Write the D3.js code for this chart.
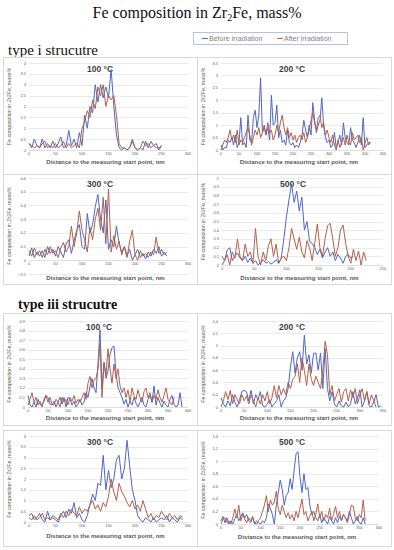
<!DOCTYPE html>
<html>
<head>
<meta charset="utf-8">
<script src="https://cdn.jsdelivr.net/npm/d3@7"></script>
<style>
    body { margin: 0; background: #ffffff; }
    svg { display: block; }
</style>
</head>
<body>
<svg id="vis"></svg>
<script>
/**
 * Data, Fe composition (mass%) along the measuring line
 */
const seriesNames = ["Before irradiation", "After irradiation"];
const structures = ["type i strucutre", "type iii strucutre"];
const temps = ["100 °C", "200 °C", "300 °C", "500 °C"];

// sampling interval along the line, nm
const iStep = [5, 5, 5, 4];
const iiiStep = [5, 5, 5, 5];

// type i, 100 °C
const i100Before = [0.3,0.1,0.5,0.2,0.1,0.5,0.1,0.3,0.1,0.4,0.1,0.3,0.6,0.1,0.2,0.9,0.2,0.5,0.1,0.8,0.2,1.6,1.0,2.0,1.7,3.0,2.2,3.0,2.4,2.9,2.4,3.7,2.0,0.7,0.1,0.0,0.1,0.0,0.1,0.5,0.1,0.0,0.1,0.0,0.4,0.1,0.4,0.2,0.3,0.0,0.2];
const i100After = [0.3,0.2,0.1,0.2,0.1,0.3,0.4,0.1,0.2,0.1,0.3,0.1,0.2,0.4,0.1,0.3,0.1,0.2,0.3,0.1,1.0,1.3,1.8,1.5,2.3,1.9,2.9,2.5,3.0,2.0,2.5,2.3,2.5,1.6,0.3,0.1,0.1,0.0,0.1,0.4,0.1,0.0,0.1,0.4,0.2,0.3,0.1,0.2,0.1,0.1,0.2];

// type i, 200 °C
const i200Before = [0.2,0.0,0.1,0.1,0.4,0.3,0.5,0.2,0.6,0.1,0.3,1.3,0.2,0.3,0.1,1.4,0.4,0.3,1.3,1.6,0.9,1.4,2.9,0.7,1.0,0.6,0.9,0.4,2.2,1.0,1.1,1.8,0.5,0.8,0.3,0.4,0.2,0.8,0.3,0.2,0.3,0.1,0.2,0.1,0.3,0.6,1.2,0.8,0.5,1.0,0.6,1.9,1.2,0.7,1.0,1.2,2.1,1.0,0.5,0.3,0.4,0.1,0.2,0.7,0.1,0.3,0.6,0.2,1.1,0.5,0.3,0.2,0.9,0.4,0.3,0.1,0.3,0.6,0.2,1.3,0.1,0.2,0.3,0.3];
const i200After = [0.0,0.2,0.4,0.3,0.5,0.8,0.4,0.6,0.3,0.8,0.2,0.4,0.3,0.5,0.7,0.9,0.6,0.2,0.5,0.8,0.6,0.9,0.5,0.7,0.9,0.6,1.1,0.7,0.8,0.4,0.6,1.0,0.7,1.1,1.4,0.9,0.6,0.9,0.5,0.7,0.4,0.6,0.3,0.5,0.6,0.4,0.7,0.3,0.5,0.8,1.2,1.5,1.1,0.8,1.3,1.4,0.9,1.1,0.6,0.8,0.5,0.3,0.6,0.2,0.0,0.4,0.1,0.3,0.5,0.2,0.6,0.3,0.2,0.7,0.4,0.5,0.6,0.3,0.5,0.0,0.3,0.5,0.2,0.3];

// type i, 300 °C
const i300Before = [0.03,0.09,0.02,0.06,0.03,0.07,0.02,0.1,0.05,0.08,0.03,0.1,0.06,0.02,0.12,0.15,0.05,0.14,0.22,0.26,0.1,0.08,0.34,0.2,0.26,0.39,0.48,0.3,0.2,0.44,0.08,0.15,0.1,0.25,0.12,0.06,0.1,0.03,0.08,0.0,0.04,0.08,0.02,0.05,0.01,0.06,0.03,0.08,0.05,0.1,0.03,0.06,0.03];
const i300After = [0.07,0.03,0.09,0.04,0.07,0.02,0.08,0.04,0.1,0.05,0.07,0.02,0.09,0.13,0.06,0.1,0.25,0.1,0.2,0.36,0.22,0.15,0.06,0.24,0.15,0.3,0.38,0.22,0.46,0.12,0.52,0.06,0.18,0.08,0.14,0.04,0.1,0.02,0.14,0.22,0.04,0.0,0.07,0.03,0.05,0.02,0.06,0.04,0.17,0.05,0.08,0.04,0.06];

// type i, 500 °C
const i500Before = [0.0,0.05,0.17,0.2,0.05,0.1,0.14,0.08,0.05,0.1,0.03,0.08,0.02,0.05,0.0,0.03,0.06,0.02,0.04,0.01,0.03,0.06,0.02,0.08,0.3,0.55,0.75,0.93,0.72,0.85,0.62,0.78,0.4,0.5,0.27,0.25,0.2,0.12,0.18,0.08,0.15,0.2,0.1,0.15,0.05,0.12,0.08,0.02,0.1,0.12,0.08,0.1];
const i500After = [0.1,0.05,0.12,0.0,0.15,0.08,0.3,0.1,0.05,0.24,0.1,0.15,0.02,0.42,0.1,0.0,0.15,0.05,0.22,0.3,0.1,0.24,0.02,0.08,0.1,0.05,0.2,0.42,0.3,0.18,0.32,0.15,0.08,0.28,0.2,0.05,0.25,0.47,0.2,0.1,0.3,0.45,0.48,0.3,0.1,0.2,0.4,0.46,0.25,0.1,0.02,0.18,0.05,0.16,0.0,0.15,0.05];

// type iii, 100 °C
const iii100Before = [0.12,0.02,0.0,0.05,0.0,0.08,0.03,0.02,0.06,0.12,0.1,0.03,0.02,0.06,0.0,0.05,0.1,0.03,0.1,0.0,0.1,0.08,0.02,0.06,0.0,0.03,0.08,0.02,0.05,0.15,0.1,0.22,0.3,0.2,0.15,0.45,0.81,0.2,0.47,0.3,0.38,0.55,0.62,0.64,0.35,0.2,0.15,0.1,0.03,0.08,0.0,0.06,0.02,0.1,0.04,0.0,0.05,0.1,0.02,0.0,0.08,0.12,0.05,0.22,0.02,0.1,0.04,0.0,0.06,0.02,0.0,0.08,0.12,0.03,0.0,0.02,0.15,0.0];
const iii100After = [0.02,0.08,0.15,0.05,0.1,0.02,0.06,0.0,0.08,0.12,0.05,0.1,0.03,0.02,0.08,0.05,0.0,0.1,0.05,0.08,0.02,0.1,0.06,0.12,0.04,0.08,0.05,0.1,0.15,0.08,0.25,0.32,0.2,0.28,0.3,0.4,0.66,0.1,0.46,0.33,0.61,0.4,0.25,0.45,0.3,0.4,0.22,0.15,0.2,0.1,0.18,0.05,0.2,0.12,0.08,0.18,0.1,0.05,0.16,0.2,0.1,0.15,0.05,0.12,0.08,0.18,0.1,0.05,0.12,0.2,0.08,0.05,0.02,0.1];

// type iii, 200 °C
const iii200Before = [0.15,0.05,0.0,0.1,0.02,0.2,0.08,0.0,0.12,0.25,0.27,0.25,0.1,0.27,0.05,0.2,0.12,0.25,0.02,0.0,0.05,0.12,0.0,0.05,0.1,0.2,0.0,0.1,0.15,0.3,0.65,0.9,0.55,0.8,0.9,0.6,1.17,0.7,0.85,0.55,0.87,0.88,0.6,0.88,0.3,0.95,0.3,0.1,0.25,0.05,0.0,0.1,0.02,0.0,0.08,0.0,0.05,0.25,0.05,0.15,0.28,0.0,0.1,0.25,0.02,0.0,0.08,0.2,0.0,0.02];
const iii200After = [0.0,0.1,0.25,0.12,0.27,0.05,0.2,0.12,0.05,0.2,0.1,0.18,0.05,0.2,0.1,0.0,0.15,0.05,0.2,0.1,0.25,0.05,0.15,0.35,0.15,0.35,0.2,0.3,0.2,0.4,0.3,0.45,0.5,0.7,0.4,0.8,0.6,0.35,0.7,0.45,0.35,0.5,0.4,0.3,0.6,1.07,0.85,0.2,0.35,0.1,0.2,0.3,0.08,0.25,0.3,0.1,0.28,0.15,0.3,0.05,0.2,0.3,0.1,0.25,0.05,0.2,0.1,0.0];

// type iii, 300 °C
const iii300Before = [0.3,0.4,0.1,0.2,0.4,0.1,0.0,0.5,0.1,0.2,0.1,0.0,0.3,0.5,0.2,0.6,0.4,0.9,0.2,0.4,0.1,0.0,0.3,0.8,1.3,1.0,1.8,1.7,3.1,1.5,2.4,1.6,2.0,2.9,3.1,2.0,2.5,3.8,2.6,1.5,1.0,0.3,0.1,0.0,0.2,0.1,0.0,0.2,0.0,0.1,0.2,0.1,0.3,0.0,0.2,0.1,0.0,0.2,0.1];
const iii300After = [0.2,0.1,0.3,0.1,0.2,0.4,0.1,0.2,0.1,0.3,0.2,0.1,0.4,0.2,0.5,0.3,0.6,0.4,0.3,0.7,0.4,0.6,0.5,0.8,1.0,0.6,0.8,0.5,0.9,0.7,1.2,2.0,1.4,1.0,1.8,1.4,1.2,0.9,0.7,1.0,0.6,0.8,0.5,1.0,0.6,0.2,0.4,0.1,0.3,0.2,0.5,0.3,0.1,0.4,0.2,0.3,0.1,0.3,0.2];

// type iii, 500 °C
const iii500Before = [0.05,0.12,0.02,0.1,0.0,0.05,0.0,0.08,0.15,0.05,0.12,0.18,0.1,0.15,0.05,0.02,0.1,0.0,0.05,0.02,0.0,0.05,0.02,0.1,0.32,0.25,0.15,0.0,0.3,0.5,0.7,0.55,0.3,0.45,0.5,0.72,0.55,0.85,1.12,1.15,0.75,0.5,0.8,0.55,0.58,0.3,0.15,0.2,0.1,0.05,0.15,0.02,0.1,0.05,0.0,0.12,0.05,0.0,0.1,0.02,0.12,0.05,0.15,0.1,0.05,0.2,0.1,0.0,0.05,0.12,0.02,0.0,0.1,0.0];
const iii500After = [0.0,0.08,0.1,0.02,0.05,0.0,0.1,0.24,0.1,0.3,0.05,0.15,0.08,0.02,0.1,0.05,0.12,0.02,0.0,0.05,0.1,0.2,0.3,0.45,0.2,0.38,0.3,0.35,0.52,0.25,0.15,0.3,0.2,0.1,0.18,0.08,0.15,0.05,0.2,0.1,0.25,0.4,0.15,0.2,0.05,0.12,0.2,0.05,0.15,0.32,0.1,0.2,0.05,0.15,0.1,0.25,0.05,0.15,0.28,0.1,0.2,0.05,0.15,0.1,0.02,0.15,0.3,0.28,0.1,0.05,0.15,0.1,0.38,0.05];

// axis ranges [xMax, xTick, yMin, yMax, yTick]
const iAxes = [[300, 50, 0, 4, 0.5], [450, 50, 0, 3.5, 0.5], [300, 50, -0.1, 0.6, 0.1], [250, 50, 0, 1, 0.1]];
const iiiAxes = [[400, 50, 0, 0.9, 0.1], [350, 50, 0, 1.4, 0.2], [300, 50, 0, 4, 0.5], [400, 50, 0, 1.4, 0.2]];

/**
 * Styles and layout
 */
const WIDTH = 394, HEIGHT = 550;
const COLORS = ["#4f67c2", "#b0614a"];
const GRID = "#dedede";
const TEXT = "#595959";

// panel boxes [x, y, w, h], plot areas [x0, x1, yTop, yBottom], axis title baseline
const LAYOUT = [
    {box: [3, 57, 194, 117], plot: [29, 188, 63, 150], titleY: 164},
    {box: [197, 57, 194, 117], plot: [221, 383, 63, 150], titleY: 164},
    {box: [3, 174, 194, 110], plot: [29, 188, 178, 274], titleY: 280},
    {box: [197, 174, 194, 110], plot: [222, 383, 178, 265], titleY: 280},
    {box: [3, 313, 194, 112], plot: [28, 188, 321, 407], titleY: 420},
    {box: [197, 313, 194, 112], plot: [221, 383, 321, 407], titleY: 420},
    {box: [3, 430, 194, 116], plot: [29, 188, 436, 522], titleY: 538},
    {box: [197, 430, 194, 116], plot: [221, 379, 436, 524], titleY: 539}
];

let svgCanvas;

function setupCanvas(){
    svgCanvas = d3.select("#vis")
        .attr("width", WIDTH)
        .attr("height", HEIGHT)
        .style("font-family", "'Liberation Sans', Arial, sans-serif");

    svgCanvas.append("rect")
        .attr("width", WIDTH)
        .attr("height", HEIGHT)
        .attr("fill", "#ffffff");

    // main title with subscript
    let title = svgCanvas.append("text")
        .attr("x", WIDTH / 2)
        .attr("y", 18)
        .attr("text-anchor", "middle")
        .style("font-family", "'Liberation Serif', 'Times New Roman', serif")
        .style("font-size", "16px")
        .attr("fill", "#111");
    title.append("tspan").text("Fe composition in Zr");
    title.append("tspan").attr("dy", 3).style("font-size", "10px").text("2");
    title.append("tspan").attr("dy", -3).text("Fe, mass%");

    // structure headings
    svgCanvas.append("text")
        .attr("x", 8).attr("y", 55)
        .style("font-family", "'Liberation Serif', 'Times New Roman', serif")
        .style("font-size", "15px")
        .attr("fill", "#111")
        .text(structures[0]);
    svgCanvas.append("text")
        .attr("x", 18).attr("y", 309)
        .style("font-family", "'Liberation Serif', 'Times New Roman', serif")
        .style("font-size", "14px")
        .style("font-weight", "bold")
        .attr("fill", "#111")
        .text(structures[1]);
}

function drawLegend(){
    let legend = svgCanvas.append("g");
    legend.append("rect")
        .attr("x", 193.5).attr("y", 32.5)
        .attr("width", 154).attr("height", 12)
        .attr("fill", "#fff")
        .attr("stroke", "#b8c2d8")
        .attr("stroke-width", 1);
    let xs = [202, 277];
    seriesNames.forEach(function(name, i){
        legend.append("line")
            .attr("x1", xs[i]).attr("x2", xs[i] + 6)
            .attr("y1", 38.5).attr("y2", 38.5)
            .attr("stroke", COLORS[i])
            .attr("stroke-width", 1);
        legend.append("text")
            .attr("x", xs[i] + 7).attr("y", 41)
            .style("font-size", "7px")
            .attr("fill", "#7f7f7f")
            .text(name);
    });
}

function drawPanel(layout, axes, step, before, after, temp){
    let [bx, by, bw, bh] = layout.box;
    let [x0, x1, yTop, yBottom] = layout.plot;
    let [xMax, xTick, yMin, yMax, yTick] = axes;

    let g = svgCanvas.append("g");

    g.append("rect")
        .attr("x", bx + 0.5).attr("y", by + 0.5)
        .attr("width", bw).attr("height", bh)
        .attr("fill", "none")
        .attr("stroke", "#d9d9d9");

    let xScale = d3.scaleLinear().domain([0, xMax]).range([x0, x1]);
    let yScale = d3.scaleLinear().domain([yMin, yMax]).range([yBottom, yTop]);

    let nY = Math.round((yMax - yMin) / yTick);
    let yTicks = d3.range(nY + 1).map(function(k){ return +(yMin + k * yTick).toFixed(2); });
    let xTicks = d3.range(0, xMax + 1, xTick);

    // gridlines
    g.selectAll(".grid").data(yTicks).enter().append("line")
        .attr("x1", x0).attr("x2", x1)
        .attr("y1", function(d){ return Math.round(yScale(d)) + 0.5; })
        .attr("y2", function(d){ return Math.round(yScale(d)) + 0.5; })
        .attr("stroke", function(d){ return d === 0 ? "#c8c8c8" : GRID; })
        .attr("stroke-width", 0.6);

    // y tick labels
    g.selectAll(".ytick").data(yTicks).enter().append("text")
        .attr("x", x0 - 3)
        .attr("y", function(d){ return yScale(d) + 1.5; })
        .attr("text-anchor", "end")
        .style("font-size", "4px")
        .attr("fill", TEXT)
        .text(function(d){ return d3.format("~g")(d); });

    // x tick labels under the zero line
    let zeroY = yScale(0);
    g.selectAll(".xtick").data(xTicks).enter().append("text")
        .attr("x", function(d){ return xScale(d); })
        .attr("y", zeroY + 5)
        .attr("text-anchor", "middle")
        .style("font-size", "4px")
        .attr("fill", TEXT)
        .text(function(d){ return d; });

    // axis titles
    g.append("text")
        .attr("x", (x0 + x1) / 2 - 3)
        .attr("y", layout.titleY)
        .attr("text-anchor", "middle")
        .style("font-size", "6px")
        .style("font-weight", "bold")
        .attr("fill", TEXT)
        .text("Distance to the measuring start point, nm");

    g.append("text")
        .attr("transform", "translate(" + (bx + 8) + "," + ((yTop + yBottom) / 2) + ") rotate(-90)")
        .attr("text-anchor", "middle")
        .style("font-size", "5.3px")
        .attr("fill", TEXT)
        .text("Fe composition in Zr2Fe, mass%");

    // panel title
    g.append("text")
        .attr("x", x0 + 71)
        .attr("y", yTop + 9)
        .attr("text-anchor", "middle")
        .style("font-size", "8.5px")
        .style("font-weight", "bold")
        .attr("fill", "#404040")
        .text(temp);

    let line = d3.line()
        .x(function(d, i){ return xScale(i * step); })
        .y(function(d){ return yScale(d); });

    [before, after].forEach(function(values, s){
        g.append("path")
            .attr("d", line(values))
            .attr("fill", "none")
            .attr("stroke", COLORS[s])
            .attr("stroke-width", 1)
            .attr("stroke-linejoin", "round");
    });
}

function setup(){
    setupCanvas();
    drawLegend();

    let iData = [[i100Before, i100After], [i200Before, i200After], [i300Before, i300After], [i500Before, i500After]];
    let iiiData = [[iii100Before, iii100After], [iii200Before, iii200After], [iii300Before, iii300After], [iii500Before, iii500After]];

    for (let k = 0; k < 4; k++){
        drawPanel(LAYOUT[k], iAxes[k], iStep[k], iData[k][0], iData[k][1], temps[k]);
        drawPanel(LAYOUT[k + 4], iiiAxes[k], iiiStep[k], iiiData[k][0], iiiData[k][1], temps[k]);
    }
}

window.onload = function(){
    setup();
};
</script>
</body>
</html>
